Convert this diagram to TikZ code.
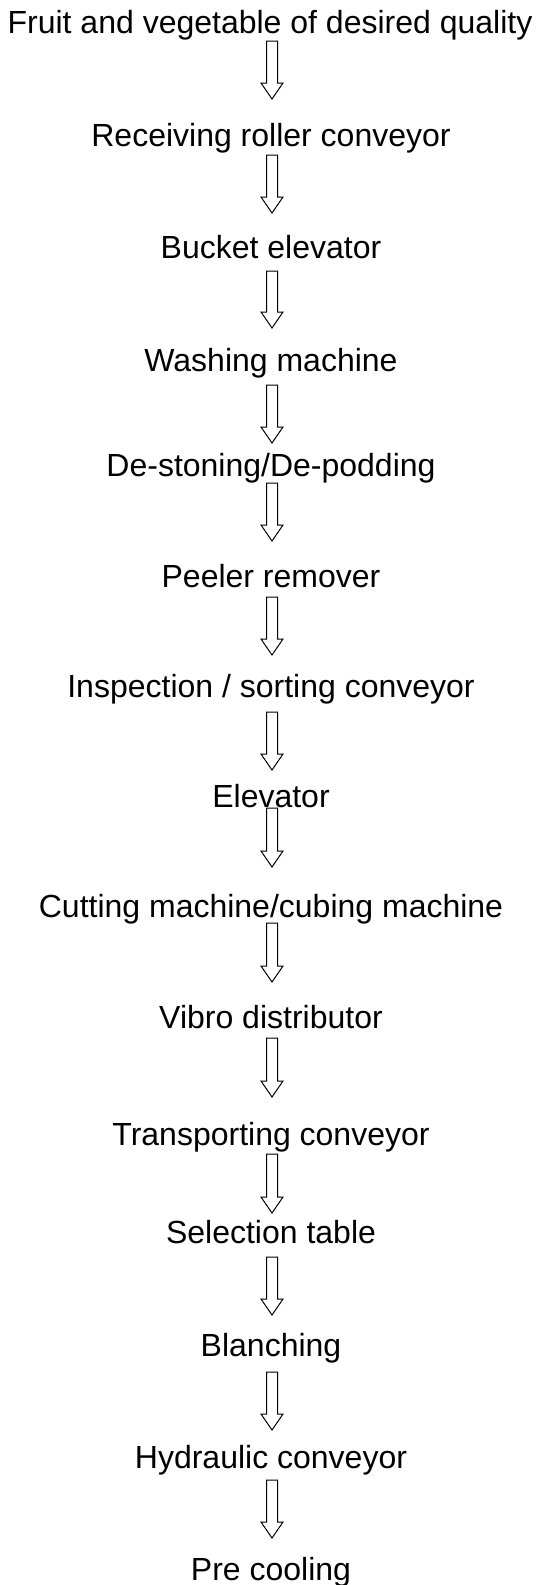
\documentclass[tikz,border=0pt]{standalone}
\usepackage{fontspec}
\setmainfont{Liberation Sans}
\usetikzlibrary{calc}
\newcommand\flowarrow[2]{%
  \draw[arrowline] ($(#1)+(-5.5,0)$) -- ($(#2)+(-5.5,-16)$) -- ($(#2)+(-11,-16)$) -- (#2)
    -- ($(#2)+(11,-16)$) -- ($(#2)+(5.5,-16)$) -- ($(#1)+(5.5,0)$) -- cycle;}
\begin{document}
\begin{tikzpicture}[x=0.75pt,y=-0.75pt,
  steptext/.style={anchor=base,inner sep=0pt,font=\fontsize{24}{28}\selectfont},
  arrowline/.style={draw=black,fill=white,line width=0.75pt,line join=miter}]
\useasboundingbox (0,0) rectangle (538,1585);
\node[steptext] (n1)  at (270,33)   {Fruit and vegetable of desired quality};
\node[steptext] (n2)  at (271,146)  {Receiving roller conveyor};
\node[steptext] (n3)  at (271,258)  {Bucket elevator};
\node[steptext] (n4)  at (271,371)  {Washing machine};
\node[steptext] (n5)  at (271,476)  {De-stoning/De-podding};
\node[steptext] (n6)  at (271,587)  {Peeler remover};
\node[steptext] (n7)  at (271,697)  {Inspection / sorting conveyor};
\node[steptext] (n8)  at (271,807)  {Elevator};
\node[steptext] (n9)  at (271,917)  {Cutting machine/cubing machine};
\node[steptext] (n10) at (271,1028) {Vibro distributor};
\node[steptext] (n11) at (271,1145) {Transporting conveyor};
\node[steptext] (n12) at (271,1243) {Selection table};
\node[steptext] (n13) at (271,1356) {Blanching};
\node[steptext] (n14) at (271,1468) {Hydraulic conveyor};
\node[steptext] (n15) at (271,1580) {Pre cooling};
\coordinate (a1) at (272,41);   \coordinate (b1) at (272,99);
\coordinate (a2) at (272,155);  \coordinate (b2) at (272,213);
\coordinate (a3) at (272,271);  \coordinate (b3) at (272,328);
\coordinate (a4) at (272,385);  \coordinate (b4) at (272,443);
\coordinate (a5) at (272,483);  \coordinate (b5) at (272,541);
\coordinate (a6) at (272,597);  \coordinate (b6) at (272,655);
\coordinate (a7) at (272,712);  \coordinate (b7) at (272,770);
\coordinate (a8) at (272,808);  \coordinate (b8) at (272,867);
\coordinate (a9) at (272,923);  \coordinate (b9) at (272,982);
\coordinate (a10) at (272,1038); \coordinate (b10) at (272,1097);
\coordinate (a11) at (272,1154); \coordinate (b11) at (272,1213);
\coordinate (a12) at (272,1257); \coordinate (b12) at (272,1315);
\coordinate (a13) at (272,1372); \coordinate (b13) at (272,1430);
\coordinate (a14) at (272,1480); \coordinate (b14) at (272,1538);
\foreach \i in {1,...,14} {\flowarrow{a\i}{b\i}}
\end{tikzpicture}
\end{document}
